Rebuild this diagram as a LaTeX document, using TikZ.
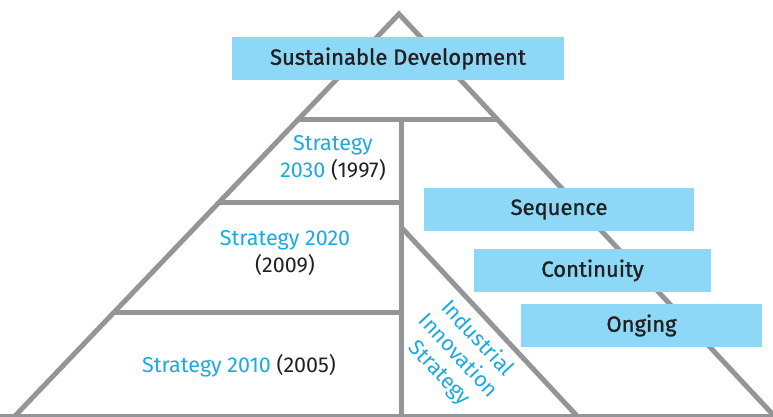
\documentclass[tikz,border=0pt]{standalone}
\usepackage{fontspec}
\setmainfont{Fira Sans}
\newfontfamily\bannerfont{Fira Sans}[FakeBold=1.2]
\definecolor{framegray}{HTML}{939598}
\definecolor{boxblue}{HTML}{8DD8F6}
\definecolor{labelcyan}{HTML}{1BA9E1}
\definecolor{inkdark}{HTML}{231F20}
\tikzset{
  frame/.style={draw=framegray, line width=5pt, line join=miter},
  banner/.style={fill=boxblue, text=inkdark, font=\bannerfont\fontsize{22}{26}\selectfont, inner sep=0pt},
  era/.style={text=labelcyan, font=\fontsize{21.5}{27}\selectfont, align=center, inner sep=0pt},
}
\begin{document}
\begin{tikzpicture}[x=1pt,y=-1pt]
\useasboundingbox (0,0) rectangle (773,416);
% pyramid outline
\coordinate (apex) at (399,14);
\coordinate (bl) at (14,417);
\coordinate (br) at (778,420);
\draw[frame] (bl) -- (apex) -- (br);
\draw[frame] (0,416.5) -- (773,416.5);
% tiers
\coordinate (t1l) at (299,119);
\coordinate (t1r) at (497,119);
\coordinate (vtop) at (401,119);
\coordinate (vbot) at (401,416);
\draw[frame] (t1l) -- (t1r);
\draw[frame] (vtop) -- (vbot);
\coordinate (t2l) at (218,202);
\coordinate (t2r) at (401,202);
\draw[frame] (t2l) -- (t2r);
\coordinate (t3l) at (114,312);
\coordinate (t3r) at (401,312);
\draw[frame] (t3l) -- (t3r);
% inner diagonal
\coordinate (dtop) at (401,227);
\coordinate (dbot) at (578,417);
\draw[frame] (dtop) -- (dbot);
% banners
\node[banner, minimum width=332pt, minimum height=43pt] (sd) at (398,58.5) {Sustainable Development};
\node[banner, minimum width=270pt, minimum height=43pt] (seq) at (559,209.5) {Sequence};
\node[banner, minimum width=237pt, minimum height=43pt] (cont) at (592.5,270.5) {Continuity};
\node[banner, minimum width=241pt, minimum height=43pt] (ong) at (641.5,325.5) {Onging};
% strategy labels
\node[era] (s2030) at (333,158.5) {Strategy\\2030 {\color{inkdark}(1997)}};
\node[era] (s2020) at (285,253) {Strategy 2020\\{\color{inkdark}(2009)}};
\node[era] (s2010) at (239,366) {Strategy 2010 {\color{inkdark}(2005)}};
\node[era, rotate=-47, font=\fontsize{21.5}{25.5}\selectfont] (iis) at (458,356) {Industrial\\Innovation\\Strategy};
\end{tikzpicture}
\end{document}
